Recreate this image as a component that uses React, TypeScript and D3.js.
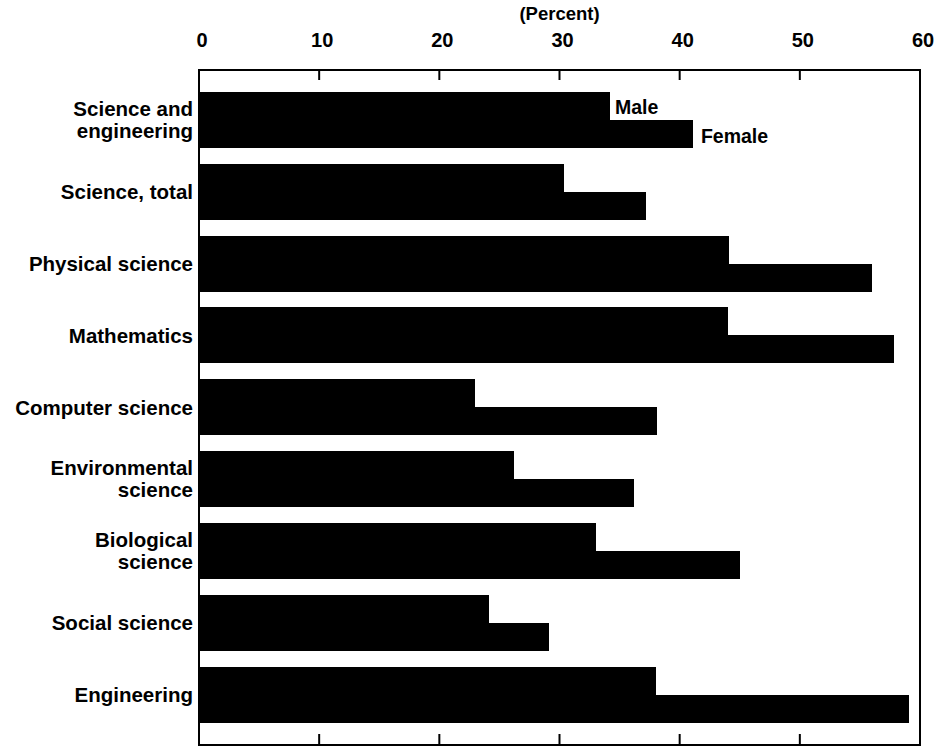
import React from "react";
import * as d3 from "d3";

const categories = [
  "Science and\nengineering",
  "Science, total",
  "Physical science",
  "Mathematics",
  "Computer science",
  "Environmental\nscience",
  "Biological\nscience",
  "Social science",
  "Engineering",
];
const maleValues = [34.2, 30.4, 44.1, 44.0, 23.0, 26.2, 33.0, 24.1, 38.0];
const femaleValues = [41.1, 37.2, 56.0, 57.8, 38.1, 36.2, 45.0, 29.1, 59.1];
const tickValues = [0, 10, 20, 30, 40, 50, 60];
const axisTitle = "(Percent)";
const seriesNames = ["Male", "Female"];

const W = 934;
const H = 753;
const frameLeft = 199;
const frameRight = 920;
const frameTop = 70;
const frameBottom = 745;
const FONT = "'Liberation Sans', Arial, Helvetica, sans-serif";

export default function App() {
  const x = d3.scaleLinear().domain([0, 60]).range([frameLeft, frameRight]);
  const y = d3
    .scaleBand<string>()
    .domain(categories)
    .range([frameTop, frameBottom])
    .paddingInner(0.22)
    .paddingOuter(0.3);
  const bw = y.bandwidth();
  const half = Math.round(bw / 2);

  return (
    <svg
      width={W}
      height={H}
      style={{ position: "absolute", left: 0, top: 0, background: "#fff" }}
      fontFamily={FONT}
      fontWeight="bold"
    >
      <rect x={0} y={0} width={W} height={H} fill="#fff" />
      {/* axis title */}
      <text x={x(30)} y={20} textAnchor="middle" fontSize={18.5} fill="#000">
        {axisTitle}
      </text>
      {/* tick labels */}
      {tickValues.map((t) => (
        <text key={t} x={x(t) + 3} y={47} textAnchor="middle" fontSize={20} fill="#000">
          {t}
        </text>
      ))}
      {/* bars */}
      <g shapeRendering="crispEdges">
        {categories.map((c, i) => {
          const y0 = Math.round(y(c)!);
          return (
            <g key={c}>
              <rect x={x(0)} y={y0} width={x(maleValues[i]) - x(0)} height={half + 1} fill="#000" />
              <rect x={x(0)} y={y0 + half} width={x(femaleValues[i]) - x(0)} height={half} fill="#000" />
            </g>
          );
        })}
      </g>
      {/* frame */}
      <rect
        x={frameLeft}
        y={frameTop}
        width={frameRight - frameLeft}
        height={frameBottom - frameTop}
        fill="none"
        stroke="#000"
        strokeWidth={2}
      />
      {/* ticks */}
      {tickValues.slice(1, -1).map((t) => (
        <g key={"tk" + t}>
          <line x1={x(t)} x2={x(t)} y1={frameTop} y2={frameTop + 10} stroke="#000" strokeWidth={2} />
          <line x1={x(t)} x2={x(t)} y1={frameBottom} y2={frameBottom - 11} stroke="#000" strokeWidth={2} />
        </g>
      ))}
      {/* category labels */}
      {categories.map((c) => {
        const lines = c.split("\n");
        const cy = y(c)! + bw / 2;
        const lh = 22;
        return (
          <text key={"l" + c} x={193} textAnchor="end" fontSize={20.5} fill="#000">
            {lines.map((ln, j) => (
              <tspan key={j} x={193} y={cy + 7 + (j - (lines.length - 1) / 2) * lh}>
                {ln}
              </tspan>
            ))}
          </text>
        );
      })}
      {/* series annotations on first category */}
      <text x={x(maleValues[0]) + 5} y={y(categories[0])! + half / 2 + 8} fontSize={19.5} fill="#000">
        {seriesNames[0]}
      </text>
      <text x={x(femaleValues[0]) + 8} y={y(categories[0])! + half + half / 2 + 9} fontSize={19.5} fill="#000">
        {seriesNames[1]}
      </text>
    </svg>
  );
}
